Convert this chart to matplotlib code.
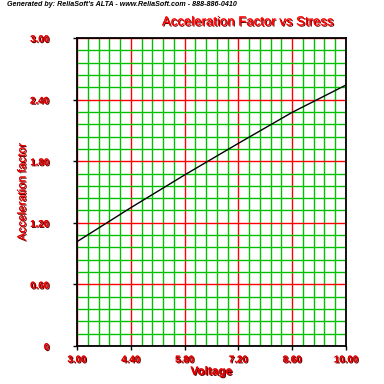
import matplotlib
matplotlib.use("Agg")
import matplotlib.pyplot as plt
import matplotlib.patheffects as pe
import numpy as np

# values
voltage = [3.0, 4.4, 5.8, 7.2, 8.6, 10.0]
accel = [1.016, 1.347, 1.666, 1.974, 2.276, 2.542]
x_ticks = [3.0, 4.4, 5.8, 7.2, 8.6, 10.0]
x_labels = ["3.00", "4.40", "5.80", "7.20", "8.60", "10.00"]
y_ticks = [0, 0.6, 1.2, 1.8, 2.4, 3.0]
y_labels = ["0", "0.60", "1.20", "1.80", "2.40", "3.00"]

narrow = ["Liberation Sans Narrow", "Liberation Sans", "DejaVu Sans"]
shadow = [pe.withSimplePatchShadow(offset=(0.8, -0.8), shadow_rgbFace="#5a0000", alpha=1.0), pe.Normal()]

fig = plt.figure(figsize=(3.84, 3.84), dpi=100)
ax = fig.add_axes([0.2005, 0.099, 0.7005, 0.802])

ax.set_xlim(3, 10)
ax.set_ylim(0, 3)
ax.set_xticks(x_ticks)
ax.set_yticks(y_ticks)
ax.set_xticks(np.linspace(3, 10, 26), minor=True)
ax.set_yticks(np.linspace(0, 3, 26), minor=True)
ax.set_xticklabels(x_labels)
ax.set_yticklabels(y_labels)

ax.grid(which="minor", color="#00c000", linewidth=1.0)
ax.grid(which="major", color="#ff0000", linewidth=1.0)
ax.set_axisbelow(True)

ax.tick_params(which="major", direction="out", length=3, width=1, color="black",
               labelsize=7, labelcolor="#e00000")
ax.tick_params(axis="y", which="major", pad=17)
ax.tick_params(axis="x", which="major", pad=3)
ax.tick_params(which="minor", length=0)
for lab in ax.get_xticklabels() + ax.get_yticklabels():
    lab.set_fontfamily(narrow)
    lab.set_fontweight("bold")
    lab.set_path_effects(shadow)

for s in ax.spines.values():
    s.set_color("black")
    s.set_linewidth(1.3)

ax.plot(voltage, accel, color="black", linewidth=1.0, zorder=5)

ax.set_xlabel("Voltage", fontsize=8.5, color="#e00000", fontweight="bold",
              family=narrow, labelpad=1, path_effects=shadow)
ax.set_ylabel("Acceleration factor", fontsize=8.5, color="#e00000",
              family=narrow, path_effects=shadow)
ax.yaxis.set_label_coords(-0.18, 0.5)

fig.text(248 / 384, 1 - 22.5 / 384, "Acceleration Factor vs Stress", fontsize=9.5,
         color="#ff0000", family=narrow, ha="center", va="center", path_effects=shadow)
fig.text(7 / 384, 1 - 5 / 384, "Generated by: ReliaSoft's ALTA - www.ReliaSoft.com - 888-886-0410",
         fontsize=5.1, color="black", family=narrow, fontweight="bold", style="italic",
         ha="left", va="center")

fig.savefig("out.png", dpi=100)
